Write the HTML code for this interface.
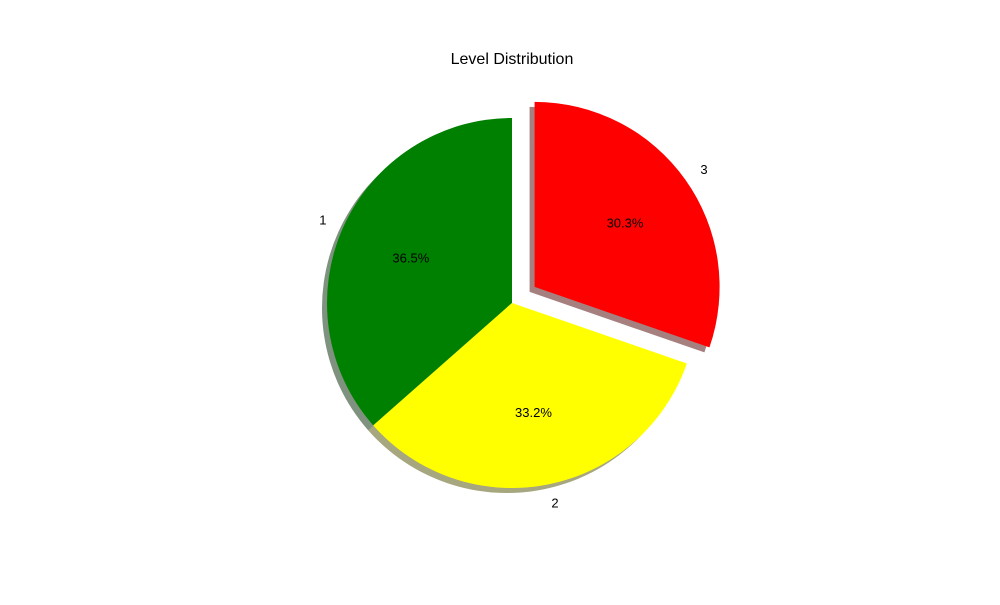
<!DOCTYPE html>
<html><head><meta charset="utf-8"><style>
html,body{margin:0;padding:0;background:#fff;}
svg text{font-family:"Liberation Sans","DejaVu Sans",sans-serif;}
</style></head><body>
<svg id="chart" width="1000" height="600" viewBox="0 0 1000 600">
<rect width="1000" height="600" fill="#fff"/>
<text x="512" y="64" font-size="16" text-anchor="middle" fill="#000">Level Distribution</text>
<g id="shadows"></g>
<g id="slices"></g>
<g id="labels"></g>
</svg>
<script>
const categories = ["1","2","3"];
const values = [36.5, 33.2, 30.3];
const colors = ["#008000","#ffff00","#ff0000"];
const shadowColors = ["rgb(0,38,0)","rgb(77,77,0)","rgb(77,0,0)"];
const explode = [0, 0, 0.15];

const cx = 512, cy = 303, R = 185, startAngle = 90;
const NS = "http://www.w3.org/2000/svg";
const total = values.reduce((a,b)=>a+b,0);
const pt = (x,y,a,r)=>[x + r*Math.cos(a*Math.PI/180), y - r*Math.sin(a*Math.PI/180)];
function wedge(x,y,a0,a1){
  const p0 = pt(x,y,a0,R), p1 = pt(x,y,a1,R);
  const large = (a1-a0)>180?1:0;
  return `M${x},${y} L${p0[0]},${p0[1]} A${R},${R} 0 ${large} 0 ${p1[0]},${p1[1]} Z`;
}
let a = startAngle;
const sh = document.getElementById('shadows'), sl = document.getElementById('slices'), lb = document.getElementById('labels');
values.forEach((v,i)=>{
  const span = v/total*360, a0 = a, a1 = a+span, mid = (a0+a1)/2;
  const [ox,oy] = pt(cx,cy,mid,explode[i]*R);
  const s = document.createElementNS(NS,'path');
  s.setAttribute('d', wedge(ox-5, oy+5, a0, a1));
  s.setAttribute('fill', shadowColors[i]);
  s.setAttribute('fill-opacity','0.5');
  
  
  sh.appendChild(s);
  const p = document.createElementNS(NS,'path');
  p.setAttribute('d', wedge(ox, oy, a0, a1));
  p.setAttribute('fill', colors[i]);
  
  
  sl.appendChild(p);
  const [lx,ly] = pt(ox,oy,mid,1.1*R);
  const t = document.createElementNS(NS,'text');
  t.setAttribute('x', lx); t.setAttribute('y', ly+5);
  t.setAttribute('font-size','13');
  t.setAttribute('text-anchor', Math.cos(mid*Math.PI/180) < 0 ? 'end' : 'start');
  t.textContent = categories[i];
  
  
  lb.appendChild(t);
  const [px,py] = pt(ox,oy,mid,0.6*R);
  const q = document.createElementNS(NS,'text');
  q.setAttribute('x', px); q.setAttribute('y', py+5);
  q.setAttribute('font-size','13');
  q.setAttribute('text-anchor','middle');
  q.textContent = v.toFixed(1) + '%';
  
  
  lb.appendChild(q);
  a = a1;
});
</script>
</body></html>
